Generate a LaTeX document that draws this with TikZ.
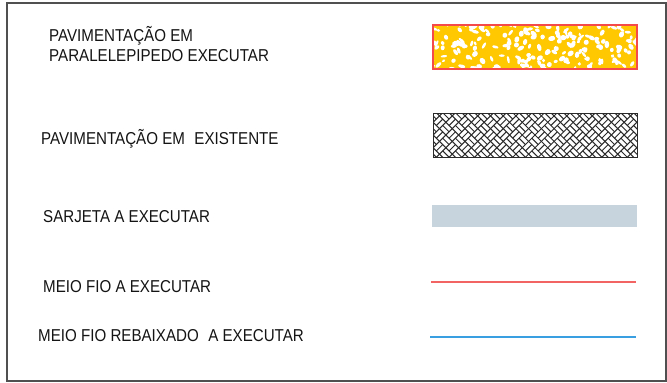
\documentclass[tikz,border=0pt]{standalone}
\usepackage{fontspec}
\setmainfont{Liberation Sans}[FakeStretch=0.88]
\definecolor{frameC}{HTML}{505050}
\definecolor{txtC}{HTML}{141414}
\definecolor{goldC}{HTML}{FFC800}
\definecolor{redC}{HTML}{F44A4A}
\definecolor{hatchC}{HTML}{2A2A2A}
\definecolor{sarjC}{HTML}{C8D4DD}
\definecolor{lineRed}{HTML}{F26464}
\definecolor{lineBlue}{HTML}{3A9FE0}
\begin{document}
\begin{tikzpicture}[x=1pt,y=-1pt,
  lbl/.style={anchor=base west,inner sep=0pt,text=txtC,font=\fontsize{17.2}{20}\selectfont},
  swatchborder/.style={line width=0.9pt}]
\useasboundingbox (0,0) rectangle (667,383);
\fill[white] (0,0) rectangle (667,383);
% frame
\draw[frameC,line width=1.3pt] (7,3) rectangle (666,381);
% labels
\node[lbl] (t1a) at (49,41) {PAVIMENTAÇÃO EM};
\node[lbl] (t1b) at (49,61) {PARALELEPIPEDO EXECUTAR};
\node[lbl] (t2) at (41,144) {PAVIMENTAÇÃO EM\hspace{0.55em}EXISTENTE};
\node[lbl] (t3) at (43,222) {SARJETA A EXECUTAR};
\node[lbl] (t4) at (43,292) {MEIO FIO A EXECUTAR};
\node[lbl] (t5) at (38,341) {MEIO FIO REBAIXADO\hspace{0.55em}A EXECUTAR};
% paralelepipedo swatch
\begin{scope}
  \clip (433,25) rectangle (637,69);
  \fill[goldC] (433,25) rectangle (637,69);
  \pgfmathsetseed{5}
  \foreach \i in {1,...,210}{
    \pgfmathsetmacro\px{431+208*rnd}
    \pgfmathsetmacro\py{23+48*rnd}
    \pgfmathsetmacro\rx{1.8+2.0*rnd}
    \pgfmathsetmacro\ry{1.2+1.4*rnd}
    \pgfmathsetmacro\ang{180*rnd}
    \fill[white,rotate around={\ang:(\px,\py)}] (\px,\py) ellipse [x radius=\rx, y radius=\ry];
  }
\end{scope}
\draw[redC,line width=1.2pt] (433,25) rectangle (637,69);
% existente swatch (basket weave)
\begin{scope}
  \clip (433,113) rectangle (637,157);
  \fill[white] (433,113) rectangle (637,157);
  \begin{scope}[shift={(535,135)},rotate=45]
    \foreach \i in {-14,...,13}{
      \foreach \j in {-14,...,13}{
        \pgfmathtruncatemacro\p{mod(\i+\j+100,2)}
        \ifnum\p=0
          \draw[hatchC,line width=1pt]
            (\i*9,\j*9) -- (\i*9+9,\j*9)
            (\i*9,\j*9+4.5) -- (\i*9+9,\j*9+4.5)
            (\i*9,\j*9+9) -- (\i*9+9,\j*9+9);
        \else
          \draw[hatchC,line width=1pt]
            (\i*9,\j*9) -- (\i*9,\j*9+9)
            (\i*9+4.5,\j*9) -- (\i*9+4.5,\j*9+9)
            (\i*9+9,\j*9) -- (\i*9+9,\j*9+9);
        \fi
      }
    }
  \end{scope}
\end{scope}
\draw[hatchC,swatchborder] (433,113) rectangle (637,157);
% sarjeta
\fill[sarjC] (432,205) rectangle (637,227);
% meio fio
\coordinate (r1) at (431,282);
\coordinate (r2) at (636,282);
\draw[lineRed,line width=1.6pt] (r1) -- (r2);
\coordinate (b1) at (430,337);
\coordinate (b2) at (636,337);
\draw[lineBlue,line width=2.3pt] (b1) -- (b2);
\end{tikzpicture}
\end{document}
